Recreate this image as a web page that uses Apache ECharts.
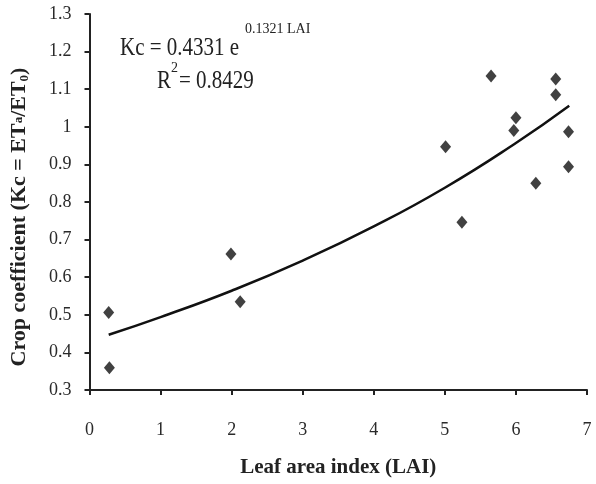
<!DOCTYPE html>
<html>
<head>
<meta charset="utf-8">
<script src="https://cdn.jsdelivr.net/npm/echarts@6/dist/echarts.min.js"></script>
<style>html,body{margin:0;padding:0;background:#fff}#c{width:596px;height:484px}</style>
</head>
<body>
<div id="c"></div>
<script>
// Observed points: leaf area index vs crop coefficient
var laiValues = [0.27, 0.28, 1.99, 2.12, 5.01, 5.24, 5.65, 5.97, 6.0, 6.28, 6.56, 6.56, 6.74, 6.74];
var kcValues  = [0.506, 0.359, 0.662, 0.535, 0.947, 0.746, 1.135, 0.99, 1.024, 0.85, 1.127, 1.085, 0.987, 0.894];
// Trendline
var trendLai = [0.27, 1, 2, 3, 4, 5, 6, 6.75];
var trendKc  = [0.447, 0.494, 0.564, 0.644, 0.735, 0.838, 0.957, 1.056];
var xTicks = [0, 1, 2, 3, 4, 5, 6, 7];
var yTicks = [0.3, 0.4, 0.5, 0.6, 0.7, 0.8, 0.9, 1.0, 1.1, 1.2, 1.3];

var scatterData = laiValues.map(function (x, i) { return [x, kcValues[i]]; });
var trendData = trendLai.map(function (x, i) { return [x, trendKc[i]]; });

var serif = 'Liberation Serif';
var chart = echarts.init(document.getElementById('c'), null, {renderer: 'canvas'});
chart.setOption({
  animation: false,
  backgroundColor: '#fff',
  grid: {left: 87.5, right: 9, top: 14, bottom: 94, containLabel: false},
  xAxis: {
    type: 'value', min: xTicks[0], max: xTicks[xTicks.length - 1], interval: 1,
    name: 'Leaf area index (LAI)', nameLocation: 'middle', nameGap: 67,
    nameTextStyle: {fontFamily: serif, fontWeight: 'bold', fontSize: 21, color: '#222'},
    axisLine: {lineStyle: {color: '#222', width: 2}},
    axisTick: {inside: false, length: 5, lineStyle: {color: '#222', width: 2}},
    axisLabel: {fontFamily: serif, fontSize: 18, color: '#2a2a2a', margin: 31},
    splitLine: {show: false}
  },
  yAxis: {
    type: 'value', min: yTicks[0], max: yTicks[yTicks.length - 1], interval: 0.1,
    name: '{n|Crop coefficient (Kc = ET}{a|a}{n|/ET}{z|0}{n|)}', nameLocation: 'middle', nameGap: 58,
    nameTextStyle: {
      fontFamily: serif, fontWeight: 'bold', fontSize: 22, color: '#222',
      padding: [0, 30, 0, 0],
      rich: {
        n: {fontFamily: serif, fontWeight: 'bold', fontSize: 22, color: '#222', lineHeight: 25},
        a: {fontFamily: serif, fontWeight: 'bold', fontSize: 13, color: '#222', verticalAlign: 'middle', lineHeight: 25},
        z: {fontFamily: serif, fontWeight: 'bold', fontSize: 13, color: '#222', verticalAlign: 'bottom', lineHeight: 20}
      }
    },
    axisLine: {lineStyle: {color: '#222', width: 2}},
    axisTick: {inside: false, length: 5, lineStyle: {color: '#222', width: 2}},
    axisLabel: {fontFamily: serif, fontSize: 18, color: '#2a2a2a', margin: 18,
      formatter: function (v) { return String(Math.round(v * 10) / 10); }},
    splitLine: {show: false}
  },
  series: [
    {
      type: 'scatter', data: scatterData, symbol: 'diamond', symbolSize: [11, 13],
      itemStyle: {color: '#111'}, z: 3
    },
    {
      type: 'line', data: trendData, smooth: true, symbol: 'none',
      lineStyle: {color: '#111', width: 2.5}, z: 2
    }
  ],
  graphic: [
    {type: 'text', left: 120, top: 37, scaleY: 1.15, style: {text: 'Kc = 0.4331 e', font: '21px "Liberation Serif"', fill: '#222'}},
    {type: 'text', left: 245, top: 22, style: {text: '0.1321 LAI', font: '14px "Liberation Serif"', fill: '#222'}},
    {type: 'text', left: 157, top: 70, scaleY: 1.15, style: {text: 'R', font: '21px "Liberation Serif"', fill: '#222'}},
    {type: 'text', left: 171, top: 61, style: {text: '2', font: '14px "Liberation Serif"', fill: '#222'}},
    {type: 'text', left: 179, top: 70, scaleY: 1.15, style: {text: '= 0.8429', font: '21px "Liberation Serif"', fill: '#222'}}
  ]
});
</script>
</body>
</html>
